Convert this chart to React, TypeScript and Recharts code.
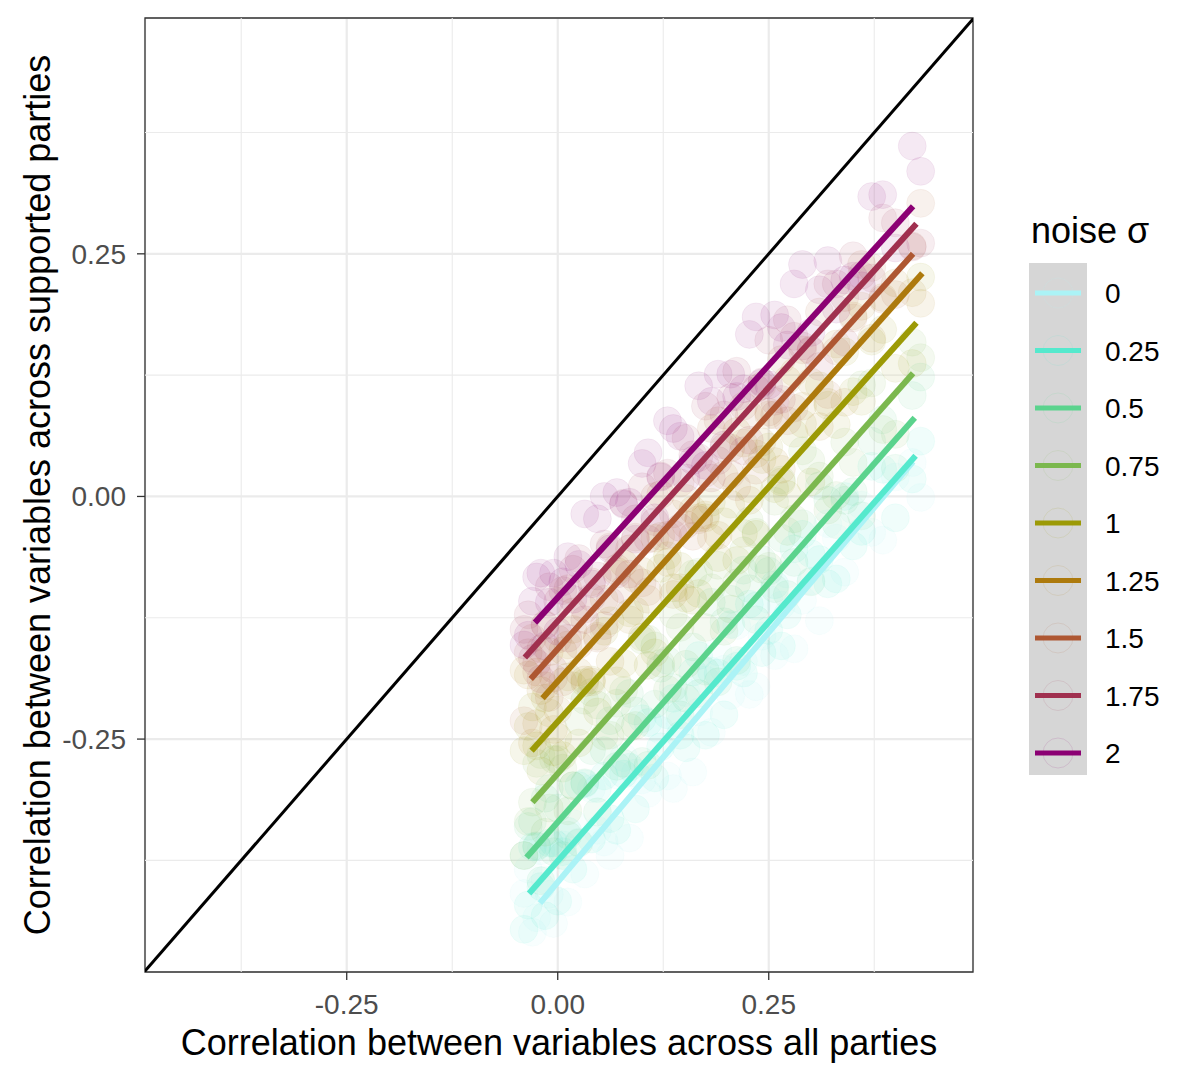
import React from 'react';
import {
  ComposedChart,
  Scatter,
  XAxis,
  YAxis,
  CartesianGrid,
  ReferenceArea,
  ReferenceLine,
} from 'recharts';

// noise levels and their colours (legend order)
const sigmaLabels = ['0', '0.25', '0.5', '0.75', '1', '1.25', '1.5', '1.75', '2'];
const sigmaColors = [
  '#ABF3F6', '#55E9CD', '#5BD38D', '#7BB84E', '#9C9A06',
  '#AD7A0D', '#AE5732', '#A0304F', '#8B0073',
];

// correlation across all parties (two draws, shared by every noise level)
const xsA = [
  -0.04, -0.03, -0.02, -0.01, 0.0, 0.012, 0.025, 0.04, 0.055, 0.07,
  0.085, 0.1, 0.115, 0.13, 0.145, 0.16, 0.175, 0.19, 0.205, 0.22,
  0.235, 0.25, 0.265, 0.28, 0.3, 0.32, 0.34, 0.36, 0.385, 0.42,
];
const xsB = [
  -0.035, -0.025, -0.015, -0.005, 0.006, 0.018, 0.032, 0.047, 0.062, 0.078,
  0.092, 0.107, 0.122, 0.137, 0.152, 0.167, 0.182, 0.197, 0.212, 0.227,
  0.242, 0.257, 0.272, 0.29, 0.31, 0.33, 0.35, 0.372, 0.4, 0.43,
];

// correlation across supported parties, per noise level (draw A)
const ySigma0 = [
  -0.409, -0.449, -0.365, -0.41, -0.36, -0.418, -0.356, -0.301, -0.356, -0.287,
  -0.352, -0.292, -0.238, -0.288, -0.234, -0.284, -0.189, -0.16, -0.205, -0.17,
  -0.196, -0.106, -0.112, -0.157, -0.087, -0.028, -0.078, -0.009, -0.045, 0.035,
];
const ySigma025 = [
  -0.446, -0.361, -0.402, -0.357, -0.417, -0.345, -0.298, -0.353, -0.288, -0.344,
  -0.279, -0.229, -0.29, -0.225, -0.246, -0.181, -0.246, -0.182, -0.132, -0.182,
  -0.113, -0.138, -0.154, -0.054, -0.059, -0.09, 0.0, -0.036, 0.028, 0.018,
];
const ySigma05 = [
  -0.37, -0.335, -0.396, -0.301, -0.321, -0.349, -0.357, -0.262, -0.262, -0.278,
  -0.203, -0.273, -0.214, -0.169, -0.225, -0.155, -0.18, -0.191, -0.106, -0.076,
  -0.127, -0.077, -0.043, -0.068, -0.088, -0.004, -0.004, -0.02, 0.079, 0.104,
];
const ySigma075 = [
  -0.37, -0.315, -0.266, -0.321, -0.271, -0.324, -0.232, -0.202, -0.247, -0.213,
  -0.238, -0.148, -0.154, -0.199, -0.135, -0.08, -0.135, -0.071, -0.116, -0.056,
  -0.037, -0.072, 0.017, -0.023, 0.037, -0.014, 0.056, 0.115, 0.069, 0.159,
];
const ySigma1 = [
  -0.262, -0.217, -0.283, -0.223, -0.248, -0.186, -0.254, -0.189, -0.139, -0.19,
  -0.12, -0.145, -0.161, -0.061, -0.072, -0.107, -0.022, -0.063, -0.008, -0.038,
  -0.039, 0.051, 0.015, 0.065, 0.015, 0.094, 0.149, 0.098, 0.172, 0.137,
];
const ySigma125 = [
  -0.179, -0.254, -0.2, -0.16, -0.22, -0.153, -0.181, -0.191, -0.106, -0.077,
  -0.127, -0.077, -0.043, -0.068, -0.094, -0.014, -0.019, -0.04, 0.05, 0.055,
  0.044, 0.084, 0.028, 0.128, 0.118, 0.097, 0.097, 0.196, 0.205, 0.21,
];
const ySigma15 = [
  -0.231, -0.146, -0.157, -0.207, -0.147, -0.095, -0.153, -0.088, -0.133, -0.074,
  -0.054, -0.089, 0.0, -0.04, 0.014, -0.041, 0.024, 0.078, 0.023, 0.093,
  0.027, 0.087, 0.141, 0.091, 0.151, 0.105, 0.205, 0.239, 0.203, 0.258,
];
const ySigma175 = [
  -0.137, -0.167, -0.188, -0.093, -0.108, -0.146, -0.064, -0.104, -0.049, -0.08,
  -0.08, 0.01, -0.026, 0.024, -0.032, 0.043, 0.093, 0.037, 0.102, 0.047,
  0.111, 0.161, 0.1, 0.165, 0.15, 0.219, 0.159, 0.228, 0.287, 0.257,
];
const ySigma2 = [
  -0.153, -0.108, -0.079, -0.109, -0.139, -0.062, -0.07, -0.09, 0.0, 0.004,
  -0.006, 0.034, -0.022, 0.078, 0.062, 0.037, 0.032, 0.126, 0.126, 0.111,
  0.185, 0.115, 0.174, 0.219, 0.169, 0.243, 0.223, 0.217, 0.311, 0.361,
];

// correlation across supported parties, per noise level (draw B)
const ySigma0b = [
  -0.384, -0.434, -0.395, -0.44, -0.359, -0.337, -0.389, -0.344, -0.37, -0.269,
  -0.285, -0.306, -0.241, -0.301, -0.202, -0.222, -0.243, -0.178, -0.133, -0.204,
  -0.144, -0.164, -0.08, -0.107, -0.128, -0.043, -0.014, -0.037, 0.02, -0.001,
];
const ySigma025b = [
  -0.421, -0.361, -0.432, -0.357, -0.366, -0.384, -0.296, -0.301, -0.332, -0.286,
  -0.322, -0.233, -0.258, -0.208, -0.259, -0.164, -0.18, -0.225, -0.175, -0.111,
  -0.161, -0.091, -0.122, -0.039, -0.065, -0.085, -0.051, 0.031, -0.022, 0.057,
];
const ySigma05b = [
  -0.34, -0.36, -0.311, -0.366, -0.37, -0.298, -0.295, -0.325, -0.231, -0.275,
  -0.221, -0.277, -0.177, -0.197, -0.208, -0.203, -0.109, -0.129, -0.169, -0.095,
  -0.065, -0.095, -0.101, -0.028, 0.011, -0.029, 0.005, 0.057, 0.029, 0.123,
];
const ySigma075b = [
  -0.335, -0.275, -0.346, -0.271, -0.28, -0.298, -0.21, -0.215, -0.246, -0.2,
  -0.236, -0.147, -0.172, -0.122, -0.173, -0.078, -0.094, -0.139, -0.089, -0.025,
  -0.075, -0.005, -0.036, 0.047, 0.021, 0.001, 0.035, 0.117, 0.064, 0.143,
];
const ySigma1b = [
  -0.237, -0.257, -0.208, -0.263, -0.267, -0.195, -0.192, -0.222, -0.128, -0.172,
  -0.118, -0.174, -0.074, -0.094, -0.105, -0.1, -0.006, -0.026, -0.066, 0.008,
  0.038, 0.008, 0.002, 0.075, 0.114, 0.074, 0.108, 0.16, 0.132, 0.226,
];
const ySigma125b = [
  -0.184, -0.234, -0.195, -0.24, -0.159, -0.137, -0.189, -0.144, -0.17, -0.069,
  -0.085, -0.106, -0.041, -0.101, -0.002, -0.022, -0.043, 0.022, 0.067, -0.004,
  0.056, 0.036, 0.12, 0.093, 0.072, 0.157, 0.186, 0.163, 0.22, 0.199,
];
const ySigma15b = [
  -0.161, -0.181, -0.132, -0.187, -0.191, -0.119, -0.116, -0.146, -0.052, -0.096,
  -0.042, -0.098, 0.002, -0.018, -0.029, -0.024, 0.07, 0.05, 0.01, 0.084,
  0.114, 0.084, 0.078, 0.151, 0.19, 0.15, 0.184, 0.236, 0.208, 0.302,
];
const ySigma175b = [
  -0.122, -0.172, -0.133, -0.178, -0.097, -0.075, -0.127, -0.082, -0.108, -0.007,
  -0.023, -0.044, 0.021, -0.039, 0.06, 0.04, 0.019, 0.084, 0.129, 0.058,
  0.118, 0.098, 0.182, 0.155, 0.134, 0.219, 0.248, 0.225, 0.282, 0.261,
];
const ySigma2b = [
  -0.143, -0.083, -0.154, -0.079, -0.088, -0.106, -0.018, -0.023, -0.054, -0.008,
  -0.044, 0.045, 0.02, 0.07, 0.019, 0.114, 0.098, 0.053, 0.103, 0.167,
  0.117, 0.187, 0.156, 0.239, 0.213, 0.193, 0.227, 0.309, 0.256, 0.335,
];

const ySeriesA = [
  ySigma0, ySigma025, ySigma05, ySigma075, ySigma1,
  ySigma125, ySigma15, ySigma175, ySigma2,
];
const ySeriesB = [
  ySigma0b, ySigma025b, ySigma05b, ySigma075b, ySigma1b,
  ySigma125b, ySigma15b, ySigma175b, ySigma2b,
];

// fitted line end points per noise level
const fitStartX = [-0.021, -0.034, -0.037, -0.03, -0.031, -0.018, -0.032, -0.039, -0.027];
const fitStartY = [-0.419, -0.409, -0.372, -0.315, -0.262, -0.208, -0.188, -0.166, -0.13];
const fitEndX = [0.421, 0.424, 0.423, 0.421, 0.425, 0.432, 0.421, 0.425, 0.421];
const fitEndY = [0.036, 0.042, 0.081, 0.127, 0.179, 0.23, 0.25, 0.281, 0.299];

// y = x reference line
const identityEnds = [-0.49, 0.493];

const xDomain: [number, number] = [-0.489, 0.492];
const yDomain: [number, number] = [-0.49, 0.493];
const majorTicks = [-0.25, 0, 0.25];
const minorTicks = [-0.375, -0.125, 0.125, 0.375];

const FONT = '"Liberation Sans", Arial, sans-serif';

const cloudData = sigmaLabels.map((_, k) => [
  ...xsA.map((x, i) => ({ x, y: ySeriesA[k][i] })),
  ...xsB.map((x, i) => ({ x, y: ySeriesB[k][i] })),
]);
const fitData = sigmaLabels.map((_, i) => [
  { x: fitStartX[i], y: fitStartY[i] },
  { x: fitEndX[i], y: fitEndY[i] },
]);
const identityData = identityEnds.map((v) => ({ x: v, y: v }));

const makeDot = (color: string) => (props: any) => (
  <circle
    cx={props.cx}
    cy={props.cy}
    r={14}
    fill={color}
    fillOpacity={0.085}
    stroke={color}
    strokeOpacity={0.06}
    strokeWidth={1}
  />
);
const NoDot = () => <g />;

function NoiseLegend() {
  return (
    <svg width={160} height={600} style={{ position: 'absolute', left: 1010, top: 190 }}>
      <text x={13} y={45} fontSize={36} fontFamily={FONT} fill="#000">
        noise σ
      </text>
      <rect x={11} y={65} width={58} height={512} fill="#D6D6D6" />
      {sigmaLabels.map((lab, k) => {
        const cy = 95 + 57.5 * k;
        return (
          <g key={lab}>
            <circle cx={40} cy={cy} r={15} fill="none" stroke={sigmaColors[k]} strokeOpacity={0.12} />
            <line x1={17} x2={63} y1={cy} y2={cy} stroke={sigmaColors[k]} strokeWidth={5} />
            <text x={87} y={cy + 10} fontSize={28} fontFamily={FONT} fill="#000">
              {lab}
            </text>
          </g>
        );
      })}
    </svg>
  );
}

export default function App() {
  return (
    <div style={{ position: 'relative', width: 1173, height: 1060 }}>
      <ComposedChart
        width={1173}
        height={1060}
        margin={{ top: 10, right: 208, bottom: 0, left: 0 }}
      >
        <CartesianGrid stroke="#EBEBEB" strokeWidth={2.2} />
        {minorTicks.map((v) => (
          <ReferenceLine key={`mx-${v}`} x={v} stroke="#EBEBEB" strokeWidth={1.1} />
        ))}
        {minorTicks.map((v) => (
          <ReferenceLine key={`my-${v}`} y={v} stroke="#EBEBEB" strokeWidth={1.1} />
        ))}
        <XAxis
          type="number"
          dataKey="x"
          domain={xDomain}
          allowDataOverflow
          ticks={majorTicks}
          tickFormatter={(v: number) => v.toFixed(2)}
          axisLine={false}
          tickLine={{ stroke: '#333', strokeWidth: 1.3 }}
          tickSize={8}
          tickMargin={14}
          tick={{ fill: '#4D4D4D', fontSize: 28, fontFamily: FONT }}
          height={96}
          label={({ viewBox }: any) => (
            <text
              x={viewBox.x + viewBox.width / 2}
              y={viewBox.y + 83}
              textAnchor="middle"
              fontSize={36}
              fontFamily={FONT}
              fill="#000"
            >
              Correlation between variables across all parties
            </text>
          )}
        />
        <YAxis
          type="number"
          dataKey="y"
          domain={yDomain}
          allowDataOverflow
          ticks={majorTicks}
          tickFormatter={(v: number) => v.toFixed(2)}
          axisLine={false}
          tickLine={{ stroke: '#333', strokeWidth: 1.3 }}
          tickSize={8}
          tickMargin={11}
          tick={{ fill: '#4D4D4D', fontSize: 28, fontFamily: FONT }}
          width={137}
          label={({ viewBox }: any) => {
            const cy = viewBox.y + viewBox.height / 2;
            return (
              <text
                x={42}
                y={cy}
                transform={`rotate(-90 42 ${cy})`}
                textAnchor="middle"
                fontSize={36}
                fontFamily={FONT}
                fill="#000"
              >
                Correlation between variables across supported parties
              </text>
            );
          }}
        />
        {cloudData.map((pts, k) => (
          <Scatter
            key={`cloud-${k}`}
            data={pts}
            shape={makeDot(sigmaColors[k])}
            isAnimationActive={false}
          />
        ))}
        {fitData.map((pts, k) => (
          <Scatter
            key={`fit-${k}`}
            data={pts}
            shape={NoDot}
            line={{ stroke: sigmaColors[k], strokeWidth: 6 }}
            isAnimationActive={false}
          />
        ))}
        <Scatter
          data={identityData}
          shape={NoDot}
          line={{ stroke: '#000', strokeWidth: 3 }}
          isAnimationActive={false}
        />
        <ReferenceArea
          x1={xDomain[0]}
          x2={xDomain[1]}
          y1={yDomain[0]}
          y2={yDomain[1]}
          fill="none"
          stroke="#333"
          strokeWidth={1.3}
          fillOpacity={0}
        />
      </ComposedChart>
      <NoiseLegend />
    </div>
  );
}
